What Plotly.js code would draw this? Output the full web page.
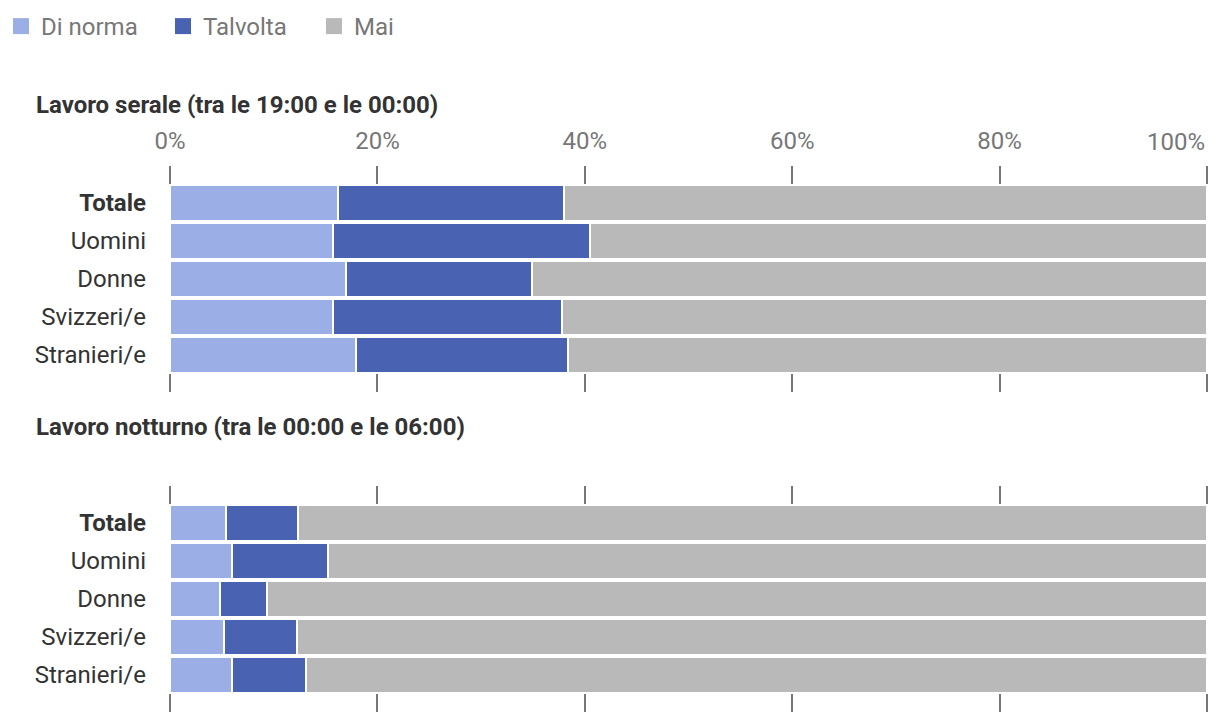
<!DOCTYPE html>
<html>
<head>
<meta charset="utf-8">
<script src="https://cdn.plot.ly/plotly-3.0.1.min.js"></script>
<style>html,body{margin:0;padding:0;background:#fff;}#chart{width:1220px;height:724px;}</style>
</head>
<body>
<div id="chart"></div>
<script>
const categories = ["Totale", "Uomini", "Donne", "Svizzeri/e", "Stranieri/e"];
const categoryLabels = ["<b>Totale</b>", "Uomini", "Donne", "Svizzeri/e", "Stranieri/e"];
const seriesNames = ["Di norma", "Talvolta", "Mai"];
const seriesColors = ["#9BAEE6", "#4A62B2", "#B9B9B9"];

// Lavoro serale (tra le 19:00 e le 00:00)
const serale_diNorma = [16.2, 15.7, 17.0, 15.7, 17.9];
const serale_talvolta = [21.8, 24.8, 17.9, 22.1, 20.5];
const serale_mai = [62.0, 59.5, 65.1, 62.2, 61.6];

// Lavoro notturno (tra le 00:00 e le 06:00)
const notturno_diNorma = [5.4, 6.0, 4.8, 5.2, 6.0];
const notturno_talvolta = [6.9, 9.2, 4.5, 7.0, 7.1];
const notturno_mai = [87.7, 84.8, 90.7, 87.8, 86.9];

const tickValues = [0, 20, 40, 60, 80, 100];
const tickLabels = ["0%", "20%", "40%", "60%", "80%", ""];
const lastTickLabel = "100%";
const titleSerale = "Lavoro serale (tra le 19:00 e le 00:00)";
const titleNotturno = "Lavoro notturno (tra le 00:00 e le 06:00)";

const W = 1220, H = 724;
const ML = 167, MR = 10;
const PW = W - ML - MR;
const fontFamily = "Roboto, 'Noto Sans', sans-serif";

const seraleSeries = [serale_diNorma, serale_talvolta, serale_mai];
const notturnoSeries = [notturno_diNorma, notturno_talvolta, notturno_mai];
const legendIds = ["legend", "legend2", "legend3"];
const legendLeft = [1, 163, 314];

const traces = [];
seraleSeries.forEach((vals, i) => {
  traces.push({
    type: "bar", orientation: "h", x: vals, y: categories,
    name: seriesNames[i], showlegend: false,
    marker: {color: seriesColors[i], line: {color: "#ffffff", width: 2}},
    xaxis: "x", yaxis: "y", hoverinfo: "x+name"
  });
});
notturnoSeries.forEach((vals, i) => {
  traces.push({
    type: "bar", orientation: "h", x: vals, y: categories,
    name: seriesNames[i], showlegend: false,
    marker: {color: seriesColors[i], line: {color: "#ffffff", width: 2}},
    xaxis: "x2", yaxis: "y2", hoverinfo: "x+name"
  });
});
// legend entries (no data drawn)
seriesNames.forEach((nm, i) => {
  traces.push({
    type: "scatter", mode: "markers", x: [null], y: [null],
    name: nm, showlegend: true, legend: legendIds[i],
    marker: {symbol: "square", size: 16, color: seriesColors[i]},
    xaxis: "x", yaxis: "y", hoverinfo: "skip"
  });
});

const yCommon = {
  type: "category",
  range: [4.974, -0.974],
  tickvals: categories,
  ticktext: categoryLabels,
  showgrid: false, zeroline: false, showline: false,
  ticks: "", ticklabelstandoff: 20,
  tickfont: {family: fontFamily, size: 24, color: "#333333"},
  fixedrange: true
};
const xCommon = {
  range: [-0.3, 100.3],
  tickvals: tickValues,
  ticktext: tickLabels,
  showgrid: true, gridcolor: "#777777", gridwidth: 2,
  zeroline: false, showline: false, ticks: "",
  tickfont: {family: fontFamily, size: 24, color: "#777777"},
  fixedrange: true
};

function legendCfg(i) {
  return {
    orientation: "h", xref: "container", yref: "container",
    x: legendLeft[i] / W, y: 1 - 4 / H, xanchor: "left", yanchor: "top",
    font: {family: fontFamily, size: 24, color: "#777777"},
    itemclick: false, itemdoubleclick: false,
    bgcolor: "rgba(0,0,0,0)"
  };
}

const layout = {
  width: W, height: H,
  margin: {l: ML, r: MR, t: 0, b: 0, autoexpand: false},
  paper_bgcolor: "#ffffff", plot_bgcolor: "#ffffff",
  barmode: "stack", bargap: 0.053,
  font: {family: fontFamily, size: 24, color: "#333333"},
  showlegend: true,
  legend: legendCfg(0),
  legend2: legendCfg(1),
  legend3: legendCfg(2),
  xaxis: Object.assign({}, xCommon, {anchor: "y", side: "top", showticklabels: true, ticklabelstandoff: 11}),
  yaxis: Object.assign({}, yCommon, {domain: [1 - 392 / H, 1 - 166 / H], anchor: "x"}),
  xaxis2: Object.assign({}, xCommon, {anchor: "y2", showticklabels: false}),
  yaxis2: Object.assign({}, yCommon, {domain: [1 - 712 / H, 1 - 486 / H], anchor: "x2"}),
  annotations: [
    {text: "<b>" + titleSerale + "</b>", xref: "paper", yref: "paper", x: (34 - ML) / PW, y: 1 - 105 / H,
     xanchor: "left", yanchor: "middle", showarrow: false,
     font: {family: fontFamily, size: 24, color: "#333333"}},
    {text: "<b>" + titleNotturno + "</b>", xref: "paper", yref: "paper", x: (34 - ML) / PW, y: 1 - 427 / H,
     xanchor: "left", yanchor: "middle", showarrow: false,
     font: {family: fontFamily, size: 24, color: "#333333"}},
    {text: lastTickLabel, xref: "x", yref: "paper", x: 100, y: 1 - 142 / H,
     xanchor: "right", yanchor: "middle", showarrow: false,
     font: {family: fontFamily, size: 24, color: "#777777"}}
  ]
};

Plotly.newPlot("chart", traces, layout, {displayModeBar: false});
</script>
</body>
</html>
